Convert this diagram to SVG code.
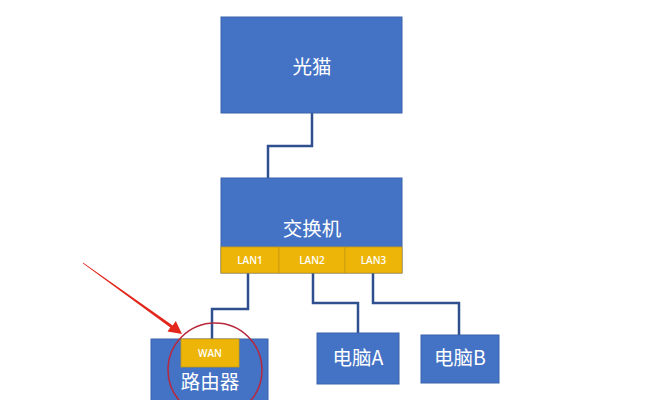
<svg xmlns="http://www.w3.org/2000/svg" width="653" height="400" viewBox="0 0 653 400">
<style>
.box{fill:#4472C4;stroke:#3b63ad;stroke-width:1}
.port{fill:#EDB507;stroke:#c99a10;stroke-width:0.8}
.t{font-family:"Noto Sans CJK SC","Noto Sans",sans-serif;font-size:19.5px;fill:#ffffff;text-anchor:middle}
.p{font-family:"Open Sans","Liberation Sans",sans-serif;font-size:10px;font-weight:600;fill:#ffffff;text-anchor:middle}
.wire{fill:none;stroke:#2F4F8F;stroke-width:2.5}
</style>
<rect width="653" height="400" fill="#ffffff"/>
<g id="connectors">
<polyline class="wire" points="312,113 312,146 268,146 268,178"/>
<polyline class="wire" points="248,273 248,309 212,309 212,339"/>
<polyline class="wire" points="313,273 313,303 358,303 358,333"/>
<polyline class="wire" points="373,273 373,303 459,303 459,335"/>
</g>
<g id="modem">
<rect class="box" x="221" y="17" width="181" height="96"/>
<text class="t" x="312" y="74">光猫</text>
</g>
<g id="switch">
<rect class="box" x="221" y="178" width="181" height="95"/>
<text class="t" x="312" y="236">交换机</text>
</g>
<g id="lan1">
<rect class="port" x="221" y="247" width="58" height="26"/>
<text class="p" x="250" y="264">LAN1</text>
</g>
<g id="lan2">
<rect class="port" x="279" y="247" width="66" height="26"/>
<text class="p" x="312" y="264">LAN2</text>
</g>
<g id="lan3">
<rect class="port" x="345" y="247" width="57" height="26"/>
<text class="p" x="373.5" y="264">LAN3</text>
</g>
<g id="router">
<rect class="box" x="151" y="339" width="117" height="70"/>
<rect class="port" x="181" y="339" width="58" height="28"/>
<text class="p" x="210" y="357">WAN</text>
<text class="t" x="210" y="389">路由器</text>
</g>
<g id="pcA">
<rect class="box" x="317" y="333" width="82" height="51"/>
<text class="t" x="358" y="365">电脑A</text>
</g>
<g id="pcB">
<rect class="box" x="421" y="335" width="78" height="48"/>
<text class="t" x="460" y="365">电脑B</text>
</g>
<g id="highlight">
<ellipse cx="215" cy="370" rx="47" ry="47" fill="none" stroke="#B8283C" stroke-width="1.5"/>
<polygon points="83.3,262.7 172.7,325.4 175.8,321.0 182,334 167.5,331.5 170.3,327.6 82.7,263.3" fill="#E3261C"/>
</g>
</svg>
